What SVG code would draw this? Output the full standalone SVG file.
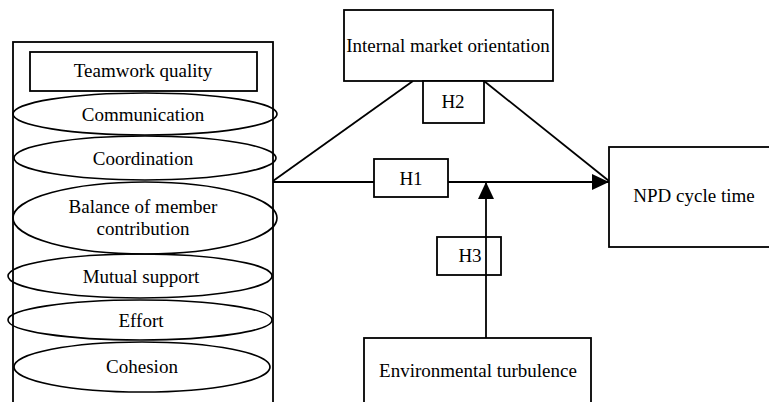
<svg xmlns="http://www.w3.org/2000/svg" width="769" height="402" viewBox="0 0 769 402">
<style>
.b{fill:#fff;stroke:#000;stroke-width:1.8}
.e{fill:none;stroke:#000;stroke-width:1.6}
.l{fill:none;stroke:#000;stroke-width:1.8}
text{font-family:'Liberation Serif','Times New Roman',Tinos,'DejaVu Serif',serif;font-size:19px;fill:#000;text-anchor:middle}
</style>
<defs>
<marker id="ah" markerUnits="userSpaceOnUse" markerWidth="18" markerHeight="18" viewBox="0 0 18 18" refX="17" refY="9" orient="auto">
<path d="M0,1 L17,9 L0,17 Z" fill="#000"/>
</marker>
</defs>
<rect width="769" height="402" fill="#fff"/>
<g id="teamwork">
<rect class="b" x="13" y="42" width="260" height="370"/>
<rect class="b" x="30" y="52" width="227" height="39"/>
<text x="143" y="77">Teamwork quality</text>
<ellipse class="e" cx="145" cy="114" rx="132" ry="21"/>
<text x="143" y="121">Communication</text>
<ellipse class="e" cx="145" cy="158" rx="131" ry="22"/>
<text x="143" y="165">Coordination</text>
<ellipse class="e" cx="145" cy="218" rx="132" ry="36"/>
<text x="143" y="213">Balance of member</text>
<text x="143" y="235">contribution</text>
<ellipse class="e" cx="140" cy="276" rx="132" ry="22"/>
<text x="141" y="283">Mutual support</text>
<ellipse class="e" cx="140" cy="320" rx="132" ry="20"/>
<text x="141" y="327">Effort</text>
<ellipse class="e" cx="142" cy="367" rx="128" ry="25"/>
<text x="142" y="373">Cohesion</text>
</g>
<g id="connectors">
<line class="l" x1="273" y1="181" x2="413" y2="81"/>
<line class="l" x1="484" y1="81" x2="609" y2="181"/>
<line class="l" x1="273" y1="182" x2="609" y2="182" marker-end="url(#ah)"/>
<line class="l" x1="486" y1="338" x2="486" y2="182" marker-end="url(#ah)"/>
</g>
<g id="imo">
<rect class="b" x="344" y="10" width="209" height="71"/>
<text x="448" y="52">Internal market orientation</text>
</g>
<g id="h2">
<rect class="b" x="423" y="81" width="61" height="42"/>
<text x="453" y="108">H2</text>
</g>
<g id="h1">
<rect class="b" x="374" y="159" width="74" height="38"/>
<text x="411" y="185">H1</text>
</g>
<g id="h3">
<rect class="b" x="437" y="237" width="64" height="38" fill-opacity="0"/>
<text x="470" y="262">H3</text>
</g>
<g id="npd">
<rect class="b" x="609" y="147" width="170" height="100"/>
<text x="694" y="202">NPD cycle time</text>
</g>
<g id="env">
<rect class="b" x="364" y="338" width="227" height="80"/>
<text x="478" y="377">Environmental turbulence</text>
</g>
</svg>
